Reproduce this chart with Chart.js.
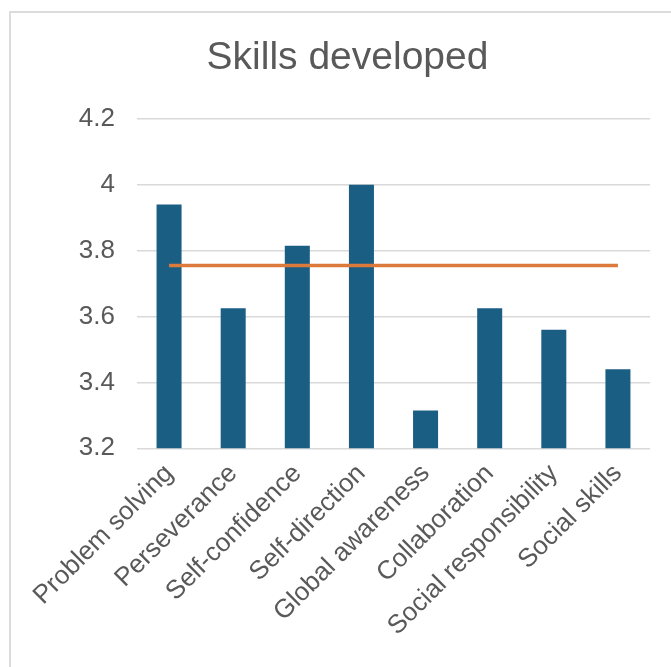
<!DOCTYPE html>
<html>
<head>
<meta charset="utf-8">
<title>Skills developed</title>
<script src="https://cdn.jsdelivr.net/npm/chart.js@4.4.0/dist/chart.umd.min.js"></script>
<style>
  html, body { margin: 0; padding: 0; background: #fff; }
  #wrap { position: relative; width: 671px; height: 667px; overflow: hidden; }
  /* light frame round the chart, open on the right and bottom */
  #frame {
    position: absolute; left: 9px; top: 11px; width: 700px; height: 700px;
    border-top: 2px solid #dcdcdc; border-left: 2px solid #dcdcdc;
  }
  #myChart { position: absolute; left: 0; top: 0; }
</style>
</head>
<body>
<div id="wrap">
  <div id="frame"></div>
  <canvas id="myChart" width="671" height="667"></canvas>
</div>
<script>
// skills and their mean scores
var skills = ['Problem solving', 'Perseverance', 'Self-confidence', 'Self-direction',
              'Global awareness', 'Collaboration', 'Social responsibility', 'Social skills'];
var scores = [3.94, 3.625, 3.815, 4.0, 3.315, 3.625, 3.56, 3.44];
// overall level drawn as a flat line across the bars
var overall = [3.755, 3.755, 3.755, 3.755, 3.755, 3.755, 3.755, 3.755];

var yMin = 3.2;
var yMax = 4.2;
var yStep = 0.2;

var textGray = '#595959';
var fontFamily = '"Liberation Sans", Arial, sans-serif';

var graph = document.getElementById('myChart');

var myChart = new Chart(graph, {
  type: 'bar',
  data: {
    labels: skills,
    datasets: [{
      type: 'line',
      data: overall,
      borderColor: '#dc7a3c',
      borderWidth: 3.5,
      pointRadius: 0,
      fill: false,
      order: 0
    }, {
      data: scores,
      backgroundColor: '#1b5e84',
      barPercentage: 0.39,
      categoryPercentage: 1,
      order: 1
    }]
  }, // ends data
  options: {
    responsive: false,
    animation: false,
    layout: {
      padding: { left: 45, right: 21, top: 12, bottom: 0 }
    },
    plugins: {
      legend: { display: false },
      tooltip: { enabled: false },
      title: {
        display: true,
        text: 'Skills developed',
        color: textGray,
        font: { family: fontFamily, size: 39, weight: 'normal' },
        padding: { top: 23, bottom: 37 }
      }
    },
    scales: {
      x: {
        grid: { display: false },
        border: { display: false },
        ticks: {
          color: textGray,
          font: { family: fontFamily, size: 26 },
          minRotation: 45,
          maxRotation: 45,
          padding: 2,
          autoSkip: false
        },
        afterFit: function(scale) { scale.height = 218.7; }
      },
      y: {
        min: yMin,
        max: yMax,
        border: { display: false },
        grid: { color: '#d9d9d9', lineWidth: 1.5, drawTicks: false },
        ticks: {
          stepSize: yStep,
          color: textGray,
          font: { family: fontFamily, size: 26 },
          padding: 22,
          callback: function(value) { return String(+value.toFixed(1)); }
        },
        afterFit: function(scale) { scale.width = 92; }
      }
    }
  }
}); // ends the chart
</script>
</body>
</html>
